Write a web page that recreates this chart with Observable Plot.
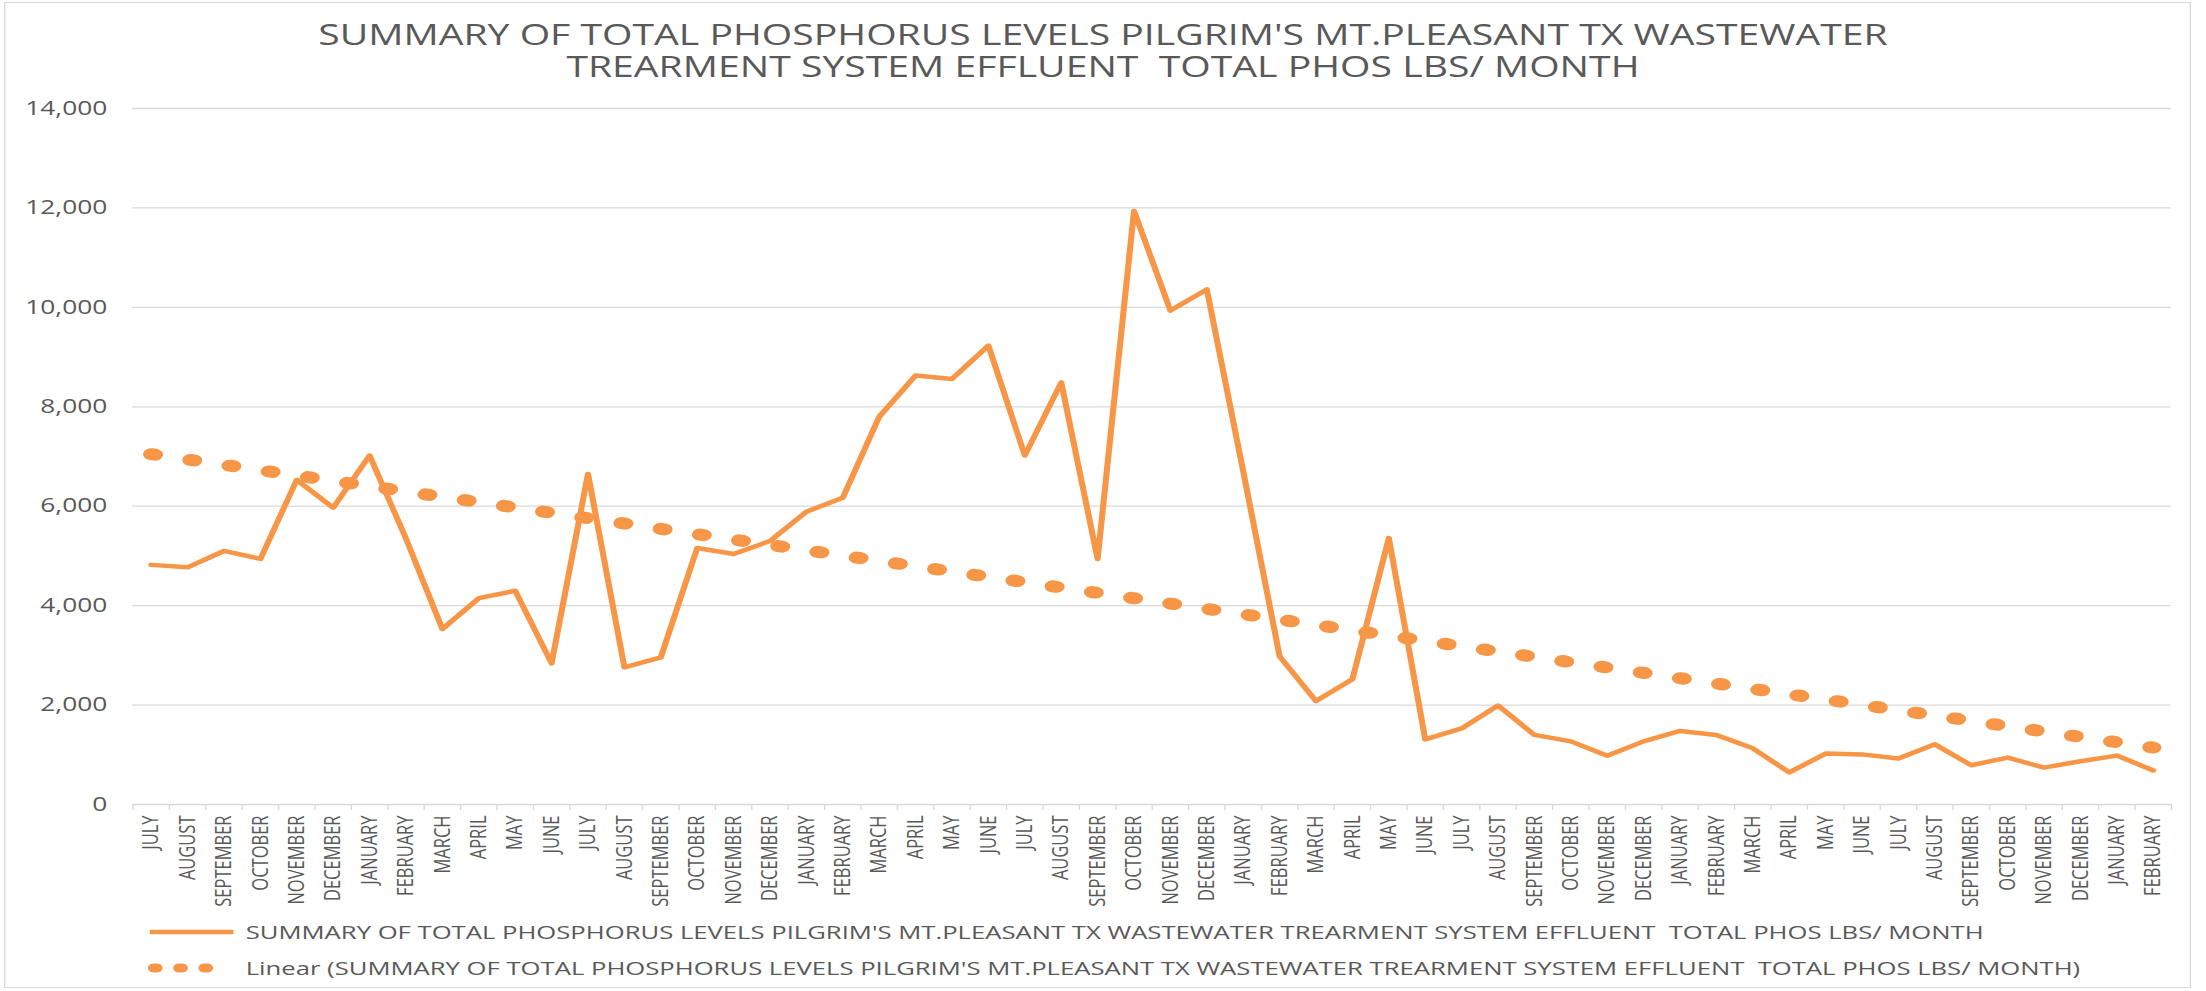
<!DOCTYPE html>
<html>
<head>
<meta charset="utf-8">
<script src="https://cdn.jsdelivr.net/npm/d3@7"></script>
<script src="https://cdn.jsdelivr.net/npm/@observablehq/plot@0.6"></script>
<style>
  html, body { margin: 0; padding: 0; background: #fff; }
  #wrap { position: relative; width: 1634px; height: 991px; transform: scaleX(1.35); transform-origin: 0 0;
          font-family: "Open Sans", sans-serif; color: #595959; overflow: visible; }
  #frame { position: absolute; left: 3px; top: 2px; width: 1620px; height: 986px; border: 1px solid #d9d9d9; box-sizing: border-box; }
  .ttl { position: absolute; left: 0; width: 1634px; text-align: center; font-size: 29px; line-height: 32px; white-space: pre; }
  #chart { position: absolute; left: 0; top: 90px; width: 1634px; }
  .leg { position: absolute; left: 108px; height: 24px; display: flex; align-items: center; font-size: 19px; white-space: pre; }
  .leg svg { margin-right: 6px; }
</style>
</head>
<body>
<div id="wrap">
  <div id="frame"></div>
  <div class="ttl" id="title1" style="top:18px"></div>
  <div class="ttl" id="title2" style="top:50px"></div>
  <div id="chart"></div>
  <div class="leg" style="top:920px">
    <svg width="68" height="24"><line x1="3" x2="65" y1="12" y2="12" stroke="#f79646" stroke-width="4.5"/></svg><span id="leg1"></span>
  </div>
  <div class="leg" style="top:956px">
    <svg width="68" height="24"><line x1="6" x2="62" y1="12" y2="12" stroke="#f79646" stroke-width="9" stroke-linecap="round" stroke-dasharray="2 16.7"/></svg><span id="leg2"></span>
  </div>
</div>
<script>
// ---- data ----
const titleLines = [
  "SUMMARY OF TOTAL PHOSPHORUS LEVELS PILGRIM'S MT.PLEASANT TX WASTEWATER",
  "TREARMENT SYSTEM EFFLUENT  TOTAL PHOS LBS/ MONTH"
];
const monthLabels = [
  "JULY","AUGUST","SEPTEMBER","OCTOBER","NOVEMBER","DECEMBER",
  "JANUARY","FEBRUARY","MARCH","APRIL","MAY","JUNE","JULY","AUGUST","SEPTEMBER","OCTOBER","NOVEMBER","DECEMBER",
  "JANUARY","FEBRUARY","MARCH","APRIL","MAY","JUNE","JULY","AUGUST","SEPTEMBER","OCTOBER","NOVEMBER","DECEMBER",
  "JANUARY","FEBRUARY","MARCH","APRIL","MAY","JUNE","JULY","AUGUST","SEPTEMBER","OCTOBER","NOVEMBER","DECEMBER",
  "JANUARY","FEBRUARY","MARCH","APRIL","MAY","JUNE","JULY","AUGUST","SEPTEMBER","OCTOBER","NOVEMBER","DECEMBER",
  "JANUARY","FEBRUARY"
];
const phosLbs = [
  4820, 4770, 5100, 4940, 6530, 5970,
  7020, 5350, 3530, 4150, 4300, 2840, 6650, 2760, 2960, 5160, 5040, 5300,
  5890, 6170, 7800, 8630, 8560, 9230, 7020, 8490, 4940, 11940, 9935, 10360,
  6700, 2980, 2080, 2520, 5360, 1310, 1530, 1990, 1400, 1270, 980, 1270,
  1480, 1400, 1130, 645, 1024, 1008, 927, 1210, 790, 944, 742, 870,
  984, 685
];
const yTicks = [0, 2000, 4000, 6000, 8000, 10000, 12000, 14000];
const seriesName = "SUMMARY OF TOTAL PHOSPHORUS LEVELS PILGRIM'S MT.PLEASANT TX WASTEWATER TREARMENT SYSTEM EFFLUENT  TOTAL PHOS LBS/ MONTH";
const trendName = "Linear (" + seriesName + ")";

// ---- table ----
const rows = phosLbs.map((v, i) => ({i, month: monthLabels[i], v}));
const idx = rows.map(d => d.i);
const bounds = [-0.5, ...idx.map(i => i + 0.5)];
const orange = "#f79646";

const chart = Plot.plot({
  width: 1634,
  height: 820,
  marginLeft: 98,
  marginRight: 26,
  marginTop: 18,
  marginBottom: 106,
  style: {fontFamily: "Open Sans, sans-serif", fontSize: "19.5px", color: "#595959", background: "transparent"},
  x: {type: "linear", domain: [-0.5, phosLbs.length - 0.5], axis: null},
  y: {domain: [0, 14000], axis: null},
  marks: [
    Plot.gridY(yTicks, {stroke: "#d9d9d9", strokeOpacity: 1, strokeWidth: 1.3}),
    Plot.axisY(yTicks, {label: null, tickSize: 0, tickPadding: 19, tickFormat: d3.format(","), fill: "#595959", fontSize: 19.5}),
    Plot.axisX(bounds, {label: null, tickSize: 6, tickFormat: () => "", stroke: "#d9d9d9", strokeOpacity: 1}),
    Plot.axisX(idx, {label: null, tickSize: 0, tickPadding: 11, tickRotate: -90, tickFormat: i => monthLabels[i], fill: "#595959", fontSize: 16.5}),
    Plot.line(rows, {x: "i", y: "v", stroke: orange, strokeWidth: 4.5, strokeLinejoin: "round", strokeLinecap: "round"}),
    Plot.linearRegressionY(rows, {x: "i", y: "v", stroke: orange, strokeWidth: 12, ci: 0,
      strokeLinecap: "round", strokeDasharray: "2.8 26.8"})
  ]
});
document.getElementById("chart").appendChild(chart);
document.getElementById("title1").textContent = titleLines[0];
document.getElementById("title2").textContent = titleLines[1];
document.getElementById("leg1").textContent = seriesName;
document.getElementById("leg2").textContent = trendName;
</script>
</body>
</html>
